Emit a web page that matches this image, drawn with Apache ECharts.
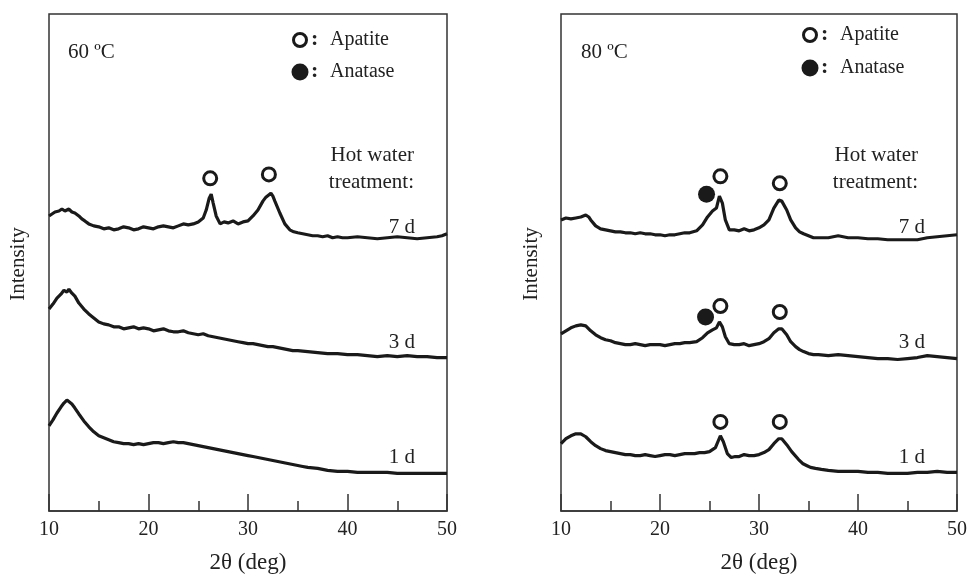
<!DOCTYPE html>
<html>
<head>
<meta charset="utf-8">
<script src="https://cdn.jsdelivr.net/npm/echarts@6/dist/echarts.min.js"></script>
<style>
  html, body { margin: 0; padding: 0; background: #fff; }
  #chart { width: 970px; height: 579px; }
</style>
</head>
<body>
<div id="chart"></div>
<script>
// 2θ / intensity (arb. units)
const left7d = [[10,298],[10.3,300],[10.6,302],[11,303],[11.3,305],[11.6,303],[12,305],[12.3,302],[12.6,301],[13,298],[13.3,295],[13.6,293],[14,290],[14.5,288],[15,287],[15.5,285],[16,286],[16.5,284],[17,285],[17.5,287],[18,286],[18.5,284],[19,285],[19.5,287],[20,286],[20.5,285],[21,287],[21.5,288],[22,287],[22.5,286],[23,288],[23.5,290],[24,289],[24.5,290],[25,292],[25.5,296],[25.8,304],[26.1,316],[26.3,320],[26.5,311],[26.8,298],[27.2,290],[27.6,292],[28,291],[28.5,293],[29,290],[29.5,292],[30,293],[30.5,298],[31,304],[31.5,313],[31.8,317],[32,319],[32.3,321],[32.5,318],[32.7,313],[33.2,301],[33.7,290],[34.2,284],[34.6,282],[35,281],[35.5,280],[36,279],[36.5,278],[37,278],[37.5,277],[38,278],[38.5,276],[39,277],[39.5,276],[40,276],[41,277],[42,276],[43,275],[44,276],[45,277],[46,276],[47,275],[48,276],[49,277],[49.5,278],[50,280]];
const left3d = [[10,204],[10.4,209],[10.8,215],[11.2,219],[11.5,223],[11.8,221],[12,224],[12.3,220],[12.6,217],[13,210],[13.5,204],[14,199],[14.5,195],[15,191],[15.5,189],[16,188],[16.5,186],[17,186],[17.5,184],[18,185],[18.5,186],[19,184],[19.5,185],[20,184],[20.5,182],[21,183],[21.5,184],[22,182],[22.5,181],[23,181],[23.5,182],[24,180],[24.5,179],[25,178],[25.5,179],[26,177],[26.5,176],[27,175],[27.5,174],[28,173],[28.5,172],[29,171],[29.5,170],[30,169],[30.5,169],[31,168],[31.5,167],[32,166],[32.5,166],[33,165],[33.5,164],[34,163],[34.5,162],[35,162],[36,161],[37,160],[38,159],[39,159],[40,158],[41,158],[42,157],[43,156],[44,157],[45,156],[46,157],[47,156],[48,156],[49,155],[50,155]];
const left1d = [[10,86],[10.4,92],[10.8,99],[11.2,105],[11.5,109],[11.8,112],[12,110],[12.3,108],[12.6,104],[13,98],[13.5,91],[14,85],[14.5,80],[15,76],[15.5,74],[16,72],[16.5,70],[17,69],[17.5,68],[18,68],[18.5,67],[19,68],[19.5,67],[20,68],[20.5,69],[21,69],[21.5,68],[22,69],[22.5,70],[23,69],[23.5,69],[24,68],[24.5,67],[25,66],[25.5,65],[26,64],[26.5,63],[27,62],[27.5,61],[28,60],[28.5,59],[29,58],[29.5,57],[30,56],[30.5,55],[31,54],[31.5,53],[32,52],[32.5,51],[33,50],[33.5,49],[34,48],[34.5,47],[35,46],[35.5,45],[36,44],[37,43],[38,41],[39,40],[40,40],[41,39],[42,39],[43,39],[44,39],[45,38],[46,38],[47,38],[48,38],[49,38],[50,38]];

const right7d = [[10,294],[10.5,296],[11,295],[11.5,296],[12,297],[12.5,299],[12.8,297],[13,294],[13.5,288],[14,285],[14.5,284],[15,283],[15.5,282],[16,282],[16.5,281],[17,281],[17.5,280],[18,281],[18.5,280],[19,280],[19.5,279],[20,279],[20.5,278],[21,279],[21.5,279],[22,280],[22.5,281],[23,281],[23.7,283],[24.3,289],[24.8,297],[25.3,303],[25.7,306],[26,318],[26.3,311],[26.6,294],[27,284],[27.5,284],[28,283],[28.5,285],[29,283],[29.5,284],[30,286],[30.5,289],[31,294],[31.5,306],[32,314],[32.3,313],[32.8,304],[33.2,294],[33.7,286],[34.1,282],[34.5,280],[35,278],[35.5,276],[36,276],[37,276],[37.5,277],[38,278],[38.5,277],[39,276],[40,276],[41,275],[42,275],[43,274],[44,274],[45,274],[46,274],[47,276],[48,277],[49,278],[50,279]];
const right3d = [[10,179],[10.5,182],[11,185],[11.5,187],[12,188],[12.5,187],[13,182],[13.5,178],[14,175],[14.5,173],[15,172],[15.5,170],[16,169],[16.5,168],[17,168],[17.5,169],[18,168],[18.5,167],[19,168],[19.5,168],[20,168],[20.5,167],[21,168],[21.5,169],[22,169],[22.5,170],[23,170],[23.7,171],[24.3,175],[24.8,180],[25.3,183],[25.7,185],[26,191],[26.3,186],[26.6,176],[27,169],[27.5,168],[28,168],[28.5,169],[29,167],[29.5,168],[30,169],[30.5,171],[31,174],[31.5,180],[32,184],[32.3,184],[32.8,178],[33.2,171],[33.7,166],[34.1,163],[34.5,161],[35,159],[35.5,158],[36,158],[37,157],[38,158],[39,157],[40,156],[41,155],[42,154],[43,154],[44,153],[45,154],[46,155],[47,157],[48,156],[49,155],[50,154]];
const right1d = [[10,68],[10.5,73],[11,76],[11.5,78],[12,78],[12.5,75],[13,70],[13.5,66],[14,63],[14.5,61],[15,60],[15.5,59],[16,58],[16.5,57],[17,57],[17.5,56],[18,56],[18.5,57],[19,56],[19.5,55],[20,56],[20.5,57],[21,57],[21.5,56],[22,57],[22.5,58],[23,58],[23.5,58],[24,59],[24.5,59],[25,60],[25.6,64],[26.1,76],[26.4,70],[26.8,58],[27.2,54],[27.6,55],[28,55],[28.5,57],[29,56],[29.5,56],[30,57],[30.5,59],[31,62],[31.5,68],[32,73],[32.3,73],[32.8,67],[33.3,60],[34,52],[34.4,48],[34.8,46],[35.2,44],[35.7,43],[36.3,42],[37,41],[38,40],[39,40],[40,40],[41,39],[42,39],[43,38],[44,38],[45,38],[46,39],[47,39],[48,40],[49,39],[50,39]];

// peak markers
const leftApatite = [[26.2,336],[32.1,340]];
const rightApatite = [[26.1,338],[32.1,331],[26.1,207],[32.1,201],[26.1,90],[32.1,90]];
const rightAnatase = [[24.7,320],[24.6,196]];

const xTicks = [10, 20, 30, 40, 50];
const treatments = ['7 d', '3 d', '1 d'];
const temps = ['60 ºC', '80 ºC'];

const serif = 'Liberation Serif';
const ink = '#1a1a1a';

const chart = echarts.init(document.getElementById('chart'));

function xAxis(i) {
  return {
    gridIndex: i, type: 'value', min: xTicks[0], max: xTicks[xTicks.length - 1], interval: 10,
    axisLine: { show: true, lineStyle: { color: '#333', width: 1.5 } },
    axisTick: { inside: true, length: 17, lineStyle: { color: '#333', width: 1.5 } },
    minorTick: { show: true, splitNumber: 2, length: 10, lineStyle: { color: '#333', width: 1.5 } },
    splitLine: { show: false },
    axisLabel: { fontSize: 20, fontFamily: serif, color: '#222', margin: 9 },
    name: '2θ (deg)', nameLocation: 'middle', nameGap: 40,
    nameTextStyle: { fontSize: 23, fontFamily: serif, color: '#222' }
  };
}
function yAxis(i) {
  return {
    gridIndex: i, type: 'value', min: 0, max: 502,
    axisLine: { show: false }, axisTick: { show: false },
    axisLabel: { show: false }, splitLine: { show: false }
  };
}
function line(i, data) {
  return {
    type: 'line', xAxisIndex: i, yAxisIndex: i, data: data, showSymbol: false,
    lineStyle: { color: ink, width: 3.2 }, silent: true
  };
}
function marks(i, data, filled) {
  return {
    type: 'scatter', xAxisIndex: i, yAxisIndex: i, data: data,
    symbol: 'circle', symbolSize: filled ? 17 : 13,
    itemStyle: filled ? { color: ink, opacity: 1 } : { color: '#fff', borderColor: ink, borderWidth: 3, opacity: 1 },
    z: 5, silent: true
  };
}
function txt(x, y, s, size, align, weight) {
  return { type: 'text', x: x, y: y, style: { text: s, font: (weight || 'normal') + ' ' + size + 'px "' + serif + '"', fill: '#222', textAlign: align || 'left', textVerticalAlign: 'middle' } };
}

const graphics = [];
const offsets = [0, 513];
offsets.forEach(function (dx, i) {
  graphics.push(txt(68 + dx, 52, temps[i], 21));
  // legend
  const ly = i === 0 ? [40, 72] : [35, 68];
  const lx = i === 0 ? 300 + dx : 297 + dx;
  graphics.push({ type: 'circle', shape: { cx: lx, cy: ly[0], r: 6.5 }, style: { fill: '#fff', stroke: ink, lineWidth: 3 } });
  graphics.push({ type: 'circle', shape: { cx: lx, cy: ly[1], r: 8.5 }, style: { fill: ink } });
  graphics.push(txt(lx + 11, ly[0] - 1, ':', 22, 'left', 'bold'));
  graphics.push(txt(lx + 11, ly[1] - 1, ':', 22, 'left', 'bold'));
  graphics.push(txt(lx + 30, ly[0], 'Apatite', 20));
  graphics.push(txt(lx + 30, ly[1], 'Anatase', 20));
  // treatment labels
  const rx = i === 0 ? 414 : 918 - dx + dx;
  graphics.push(txt(rx, 155, 'Hot water', 21, 'right'));
  graphics.push(txt(rx, 182, 'treatment:', 21, 'right'));
  const tx = i === 0 ? 415 : 925;
  graphics.push(txt(tx, 227, treatments[0], 21, 'right'));
  graphics.push(txt(tx, 342, treatments[1], 21, 'right'));
  graphics.push(txt(tx, 457, treatments[2], 21, 'right'));
  // y-axis name
  graphics.push({ type: 'text', x: (i ? 531 : 18), y: 264, rotation: Math.PI / 2,
    style: { text: 'Intensity', font: '21px "' + serif + '"', fill: '#222', textAlign: 'center', textVerticalAlign: 'middle' } });
});

chart.setOption({
  animation: false,
  backgroundColor: '#fff',
  grid: [
    { left: 49, right: 523, top: 14, bottom: 63, show: true, borderColor: '#333', borderWidth: 1.5 },
    { left: 561, right: 11, top: 14, bottom: 63, show: true, borderColor: '#333', borderWidth: 1.5 }
  ],
  xAxis: [xAxis(0), xAxis(1)],
  yAxis: [yAxis(0), yAxis(1)],
  series: [
    line(0, left7d), line(0, left3d), line(0, left1d),
    line(1, right7d), line(1, right3d), line(1, right1d),
    marks(0, leftApatite, false),
    marks(1, rightApatite, false),
    marks(1, rightAnatase, true)
  ],
  graphic: graphics
});
</script>
</body>
</html>
